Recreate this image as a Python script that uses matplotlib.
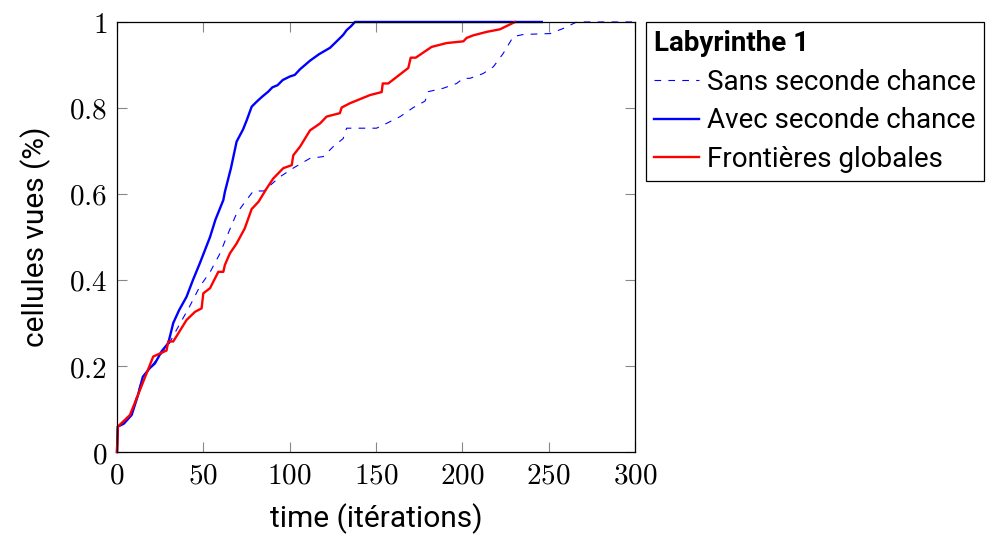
import matplotlib
matplotlib.use('Agg')
import matplotlib.pyplot as plt
from matplotlib.ticker import FuncFormatter

# data
sans_x = [0, 0.5, 8, 15, 22, 30, 34.5, 42, 48, 54, 59.7, 63.5, 69.3, 75, 79,
          85, 94.4, 102, 111.8, 119.5, 125.2, 131, 133, 150.3, 156, 164, 171.6,
          178.4, 180.3, 189, 196.7, 200.6, 204.4, 212, 218, 223.7, 229.5, 235.4,
          250.8, 258.5, 266.2, 300]
sans_y = [0, 0.059, 0.086, 0.175, 0.21, 0.25, 0.284, 0.338, 0.385, 0.419, 0.462,
          0.50, 0.555, 0.586, 0.607, 0.607, 0.64, 0.66, 0.683, 0.687, 0.71, 0.729,
          0.753, 0.753, 0.764, 0.78, 0.801, 0.816, 0.838, 0.846, 0.857, 0.869,
          0.869, 0.88, 0.896, 0.927, 0.966, 0.971, 0.973, 0.985, 1.0, 1.0]

avec_x = [0, 0.5, 4, 8.5, 12, 15, 19, 22, 26, 29.7, 32.6, 36, 40.3, 44, 48,
          53.9, 57, 61.6, 62.5, 66, 69.3, 73, 75, 78, 81, 84, 87.6, 90, 93, 96,
          100, 103, 106, 111.8, 117, 123.4, 128, 131, 133, 135.5, 137.8, 246]
avec_y = [0, 0.059, 0.066, 0.086, 0.13, 0.175, 0.195, 0.206, 0.235, 0.253, 0.30,
          0.33, 0.361, 0.40, 0.439, 0.50, 0.54, 0.586, 0.605, 0.66, 0.722, 0.75,
          0.77, 0.803, 0.815, 0.826, 0.838, 0.848, 0.853, 0.865, 0.873, 0.877,
          0.89, 0.91, 0.925, 0.94, 0.958, 0.97, 0.981, 0.99, 1.0, 1.0]

front_x = [0, 0.5, 7.5, 13.3, 21, 28.7, 29.7, 32.6, 40.3, 45.2, 49, 50, 53.9,
           58.7, 61.6, 62.5, 65.4, 69.3, 74, 78, 82, 86.7, 90.5, 96.3, 101.2,
           102.1, 106, 111.8, 117.6, 121.4, 129.1, 130.1, 134.9, 146.5, 153.3,
           153.9, 157.1, 168.7, 170.1, 173, 182.2, 190.9, 200.6, 202.5, 206.4,
           214.1, 221.8, 230.5]
front_y = [0, 0.059, 0.086, 0.144, 0.222, 0.236, 0.257, 0.257, 0.307, 0.326,
           0.334, 0.369, 0.381, 0.419, 0.419, 0.435, 0.462, 0.485, 0.52, 0.565,
           0.582, 0.613, 0.636, 0.66, 0.667, 0.69, 0.71, 0.748, 0.764, 0.78,
           0.788, 0.801, 0.811, 0.83, 0.837, 0.857, 0.857, 0.893, 0.917, 0.917,
           0.942, 0.951, 0.955, 0.963, 0.969, 0.977, 0.983, 1.0]

x_ticks = [0, 50, 100, 150, 200, 250, 300]
y_ticks = [0, 0.2, 0.4, 0.6, 0.8, 1]

plt.rcParams['mathtext.fontset'] = 'cm'
plt.rcParams['font.family'] = 'Roboto'

fig = plt.figure(figsize=(9.87, 5.36), dpi=100)
ax = fig.add_axes([0.1185, 0.1567, 0.5249, 0.8023])

ax.plot(sans_x, sans_y, color='blue', lw=0.8, linestyle=(0, (6, 6.5)),
        label='Sans seconde chance', clip_on=False)
ax.plot(avec_x, avec_y, color='blue', lw=1.7, label='Avec seconde chance',
        clip_on=False)
ax.plot(front_x, front_y, color='red', lw=1.7, label='Frontières globales',
        clip_on=False)

ax.set_xlim(0, 300)
ax.set_ylim(0, 1)
ax.set_xticks(x_ticks)
ax.set_yticks(y_ticks)
ax.xaxis.set_major_formatter(FuncFormatter(lambda v, p: f'${v:g}$'))
ax.yaxis.set_major_formatter(FuncFormatter(lambda v, p: f'${v:g}$'))
ax.tick_params(direction='in', length=7.5, width=0.8, color='#888888',
               labelsize=21, top=True, right=True, pad=7)
for s in ax.spines.values():
    s.set_linewidth(0.9)

ax.set_xlabel('time (itérations)', fontsize=21.5, labelpad=10)
ax.set_ylabel('cellules vues (%)', fontsize=21.5, labelpad=13)

leg = fig.legend(loc='upper left', bbox_to_anchor=(0.6545, 0.9595),
                 title='Labyrinthe 1', fancybox=False, edgecolor='black',
                 framealpha=1, handlelength=1.6, handletextpad=0.3,
                 borderpad=0.3, labelspacing=0.42, borderaxespad=0,
                 prop={'size': 20},
                 title_fontproperties={'size': 20, 'weight': 'bold'})
leg._legend_box.align = 'left'
leg.get_frame().set_linewidth(0.9)

fig.savefig('out.png', dpi=100)
